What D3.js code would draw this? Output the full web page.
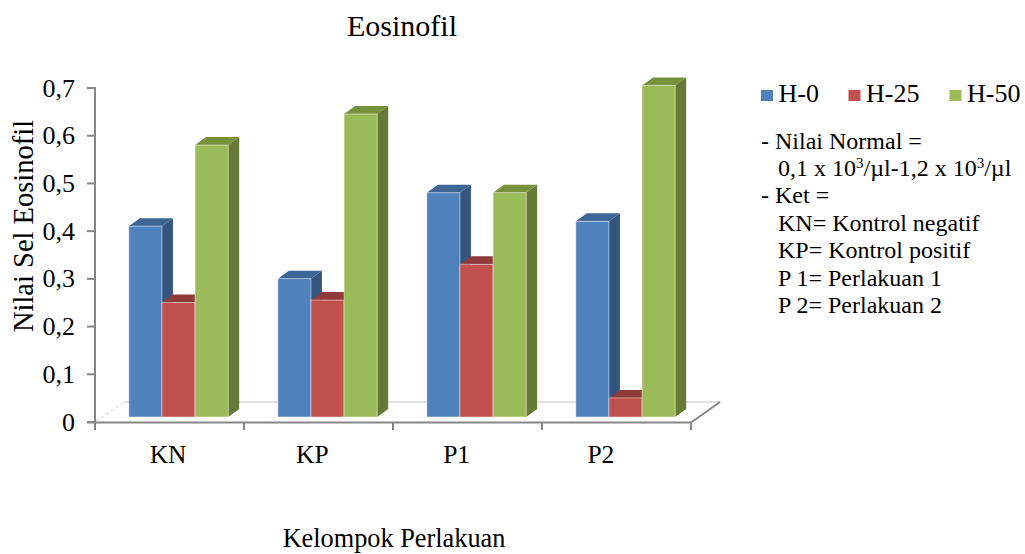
<!DOCTYPE html>
<html>
<head>
<meta charset="utf-8">
<script src="https://cdn.jsdelivr.net/npm/d3@7/dist/d3.min.js"></script>
<style>
  html, body { margin: 0; padding: 0; background: #ffffff; }
  svg { display: block; font-family: "Liberation Serif", "Times New Roman", serif; }
  text { font-family: "Liberation Serif", "Times New Roman", serif; fill: #000; }
</style>
</head>
<body>
<svg id="chart" width="1025" height="554"></svg>
<script>
// Eosinophil counts per treatment group on three sampling days
const categories = ["KN", "KP", "P1", "P2"];
const seriesNames = ["H-0", "H-25", "H-50"];
const valuesH0  = [0.40, 0.29, 0.47, 0.41];
const valuesH25 = [0.24, 0.245, 0.32, 0.04];
const valuesH50 = [0.57, 0.635, 0.47, 0.695];
const yTicks = [0, 0.1, 0.2, 0.3, 0.4, 0.5, 0.6, 0.7];
const noteLines = [
  { indent: false, parts: [["- Nilai Normal ="]] },
  { indent: true,  parts: [["0,1 x 10"], ["3", "sup"], ["/\u00b5l-1,2 x 10"], ["3", "sup"], ["/\u00b5l"]] },
  { indent: false, parts: [["- Ket ="]] },
  { indent: true,  parts: [["KN= Kontrol negatif"]] },
  { indent: true,  parts: [["KP= Kontrol positif"]] },
  { indent: true,  parts: [["P 1= Perlakuan 1"]] },
  { indent: true,  parts: [["P 2= Perlakuan 2"]] }
];

const seriesValues = [valuesH0, valuesH25, valuesH50];
const palette = [
  { front: "#4f81bd", side: "#34557f", top: "#3d6595" },
  { front: "#c0504d", side: "#8c3836", top: "#8f3b39" },
  { front: "#9bbb59", side: "#667a37", top: "#77923c" }
];

const FONT = "'Liberation Serif', 'Times New Roman', serif";
const svg = d3.select("#chart");

// plot frame (front plane)
const left = 95, right = 691, base = 422, topY = 88;
const floorDepth = { dx: 29, dy: -20 };   // floor depth vector
const barShift = { dx: 9, dy: -5 };       // bar front face sits behind the front edge
const barDepth = { dx: 11, dy: -8 };      // visible bar side depth

const x = d3.scaleBand().domain(categories).range([left, right]).paddingInner(0).paddingOuter(0);
const xs = d3.scaleBand().domain(seriesNames).range([0, x.bandwidth()]).paddingInner(0).paddingOuter(0.75);
const y = d3.scaleLinear().domain([0, 0.7]).range([base, topY]);
const xLabel = d3.scaleBand().domain(categories).range([96, 673]);

const gray = "#868686";

// floor: back edge, dashed left edge, right edge
svg.append("line")
  .attr("x1", left + floorDepth.dx).attr("y1", base + floorDepth.dy)
  .attr("x2", right + floorDepth.dx).attr("y2", base + floorDepth.dy)
  .attr("stroke", "#c4c4c4").attr("stroke-width", 1.2);
svg.append("line")
  .attr("x1", left + 1).attr("y1", base - 1)
  .attr("x2", left + floorDepth.dx).attr("y2", base + floorDepth.dy)
  .attr("stroke", "#cfcfcf").attr("stroke-width", 1).attr("stroke-dasharray", "3,3");
svg.append("line")
  .attr("x1", right).attr("y1", base + 0.5)
  .attr("x2", right + floorDepth.dx).attr("y2", base + floorDepth.dy)
  .attr("stroke", gray).attr("stroke-width", 2);

// bars, drawn left to right so each bar covers its left neighbour's side
const bars = svg.append("g");
categories.forEach((cat, ci) => {
  seriesNames.forEach((s, si) => {
    const v = seriesValues[si][ci];
    const x0 = x(cat) + xs(s) + barShift.dx;
    const w = xs.bandwidth();
    const yb = y(0) + barShift.dy;
    const yt = y(v) + barShift.dy;
    const c = palette[si];
    const g = bars.append("g");
    // side face
    g.append("path")
      .attr("d", `M${x0 + w},${yt} L${x0 + w + barDepth.dx},${yt + barDepth.dy} L${x0 + w + barDepth.dx},${yb + barDepth.dy} L${x0 + w},${yb} Z`)
      .attr("fill", c.side);
    // top face
    g.append("path")
      .attr("d", `M${x0},${yt} L${x0 + barDepth.dx},${yt + barDepth.dy} L${x0 + w + barDepth.dx},${yt + barDepth.dy} L${x0 + w},${yt} Z`)
      .attr("fill", c.top);
    // front face
    g.append("rect")
      .attr("x", x0).attr("y", yt)
      .attr("width", w).attr("height", yb - yt)
      .attr("fill", c.front)
      .attr("stroke", "rgba(255,255,255,0.45)").attr("stroke-width", 1);
  });
});

// value axis
const yAxis = svg.append("g");
yAxis.append("line")
  .attr("x1", left).attr("y1", y(0.7) - 1).attr("x2", left).attr("y2", base + 8)
  .attr("stroke", gray).attr("stroke-width", 2);
yAxis.selectAll("line.tick").data(yTicks).join("line")
  .attr("class", "tick")
  .attr("x1", left - 8).attr("x2", left)
  .attr("y1", d => y(d)).attr("y2", d => y(d))
  .attr("stroke", gray).attr("stroke-width", 2);
yAxis.selectAll("text").data(yTicks).join("text")
  .attr("x", 75).attr("y", d => y(d) + 8.5)
  .attr("text-anchor", "end")
  .attr("font-family", FONT)
  .style("font-size", "26px")
  .text(d => d === 0 ? "0" : d3.format(".1f")(d).replace(".", ","));

// category axis
const xAxis = svg.append("g");
xAxis.append("line")
  .attr("x1", left - 8).attr("y1", base + 0.5).attr("x2", right).attr("y2", base + 0.5)
  .attr("stroke", gray).attr("stroke-width", 2);
xAxis.selectAll("line.tick").data(categories.concat(["end"])).join("line")
  .attr("class", "tick")
  .attr("x1", (d, i) => left + i * x.step()).attr("x2", (d, i) => left + i * x.step())
  .attr("y1", base).attr("y2", base + 8)
  .attr("stroke", gray).attr("stroke-width", 2);
xAxis.selectAll("text").data(categories).join("text")
  .attr("x", d => xLabel(d) + xLabel.bandwidth() / 2)
  .attr("y", 463)
  .attr("text-anchor", "middle")
  .attr("font-family", FONT)
  .style("font-size", "25.5px")
  .text(d => d);

// titles
svg.append("text")
  .attr("x", 402).attr("y", 36)
  .attr("text-anchor", "middle")
  .attr("font-family", FONT)
  .style("font-size", "30px")
  .text("Eosinofil");
svg.append("text")
  .attr("x", 394).attr("y", 547)
  .attr("text-anchor", "middle")
  .attr("font-family", FONT)
  .style("font-size", "26.3px")
  .text("Kelompok Perlakuan");
svg.append("text")
  .attr("transform", "translate(33,226) rotate(-90)")
  .attr("text-anchor", "middle")
  .attr("font-family", FONT)
  .style("font-size", "28.5px")
  .text("Nilai Sel Eosinofil");

// legend
const legendX = [761, 848.5, 949.5];
const legend = svg.append("g");
seriesNames.forEach((s, i) => {
  legend.append("rect")
    .attr("x", legendX[i]).attr("y", 90)
    .attr("width", 12).attr("height", 11)
    .attr("fill", palette[i].front);
  legend.append("text")
    .attr("x", legendX[i] + 17.5).attr("y", 101.5)
    .attr("font-family", FONT)
    .style("font-size", "26px")
    .text(s);
});

// notes under the legend
const notes = svg.append("g");
noteLines.forEach((line, i) => {
  const t = notes.append("text")
    .attr("x", line.indent ? 778 : 761)
    .attr("y", 148.5 + i * 27.4)
    .attr("font-family", FONT)
    .style("font-size", "24px");
  line.parts.forEach(p => {
    const span = t.append("tspan").text(p[0]);
    if (p[1] === "sup") {
      span.style("font-size", "15px").attr("baseline-shift", "super");
    }
  });
});
</script>
</body>
</html>
